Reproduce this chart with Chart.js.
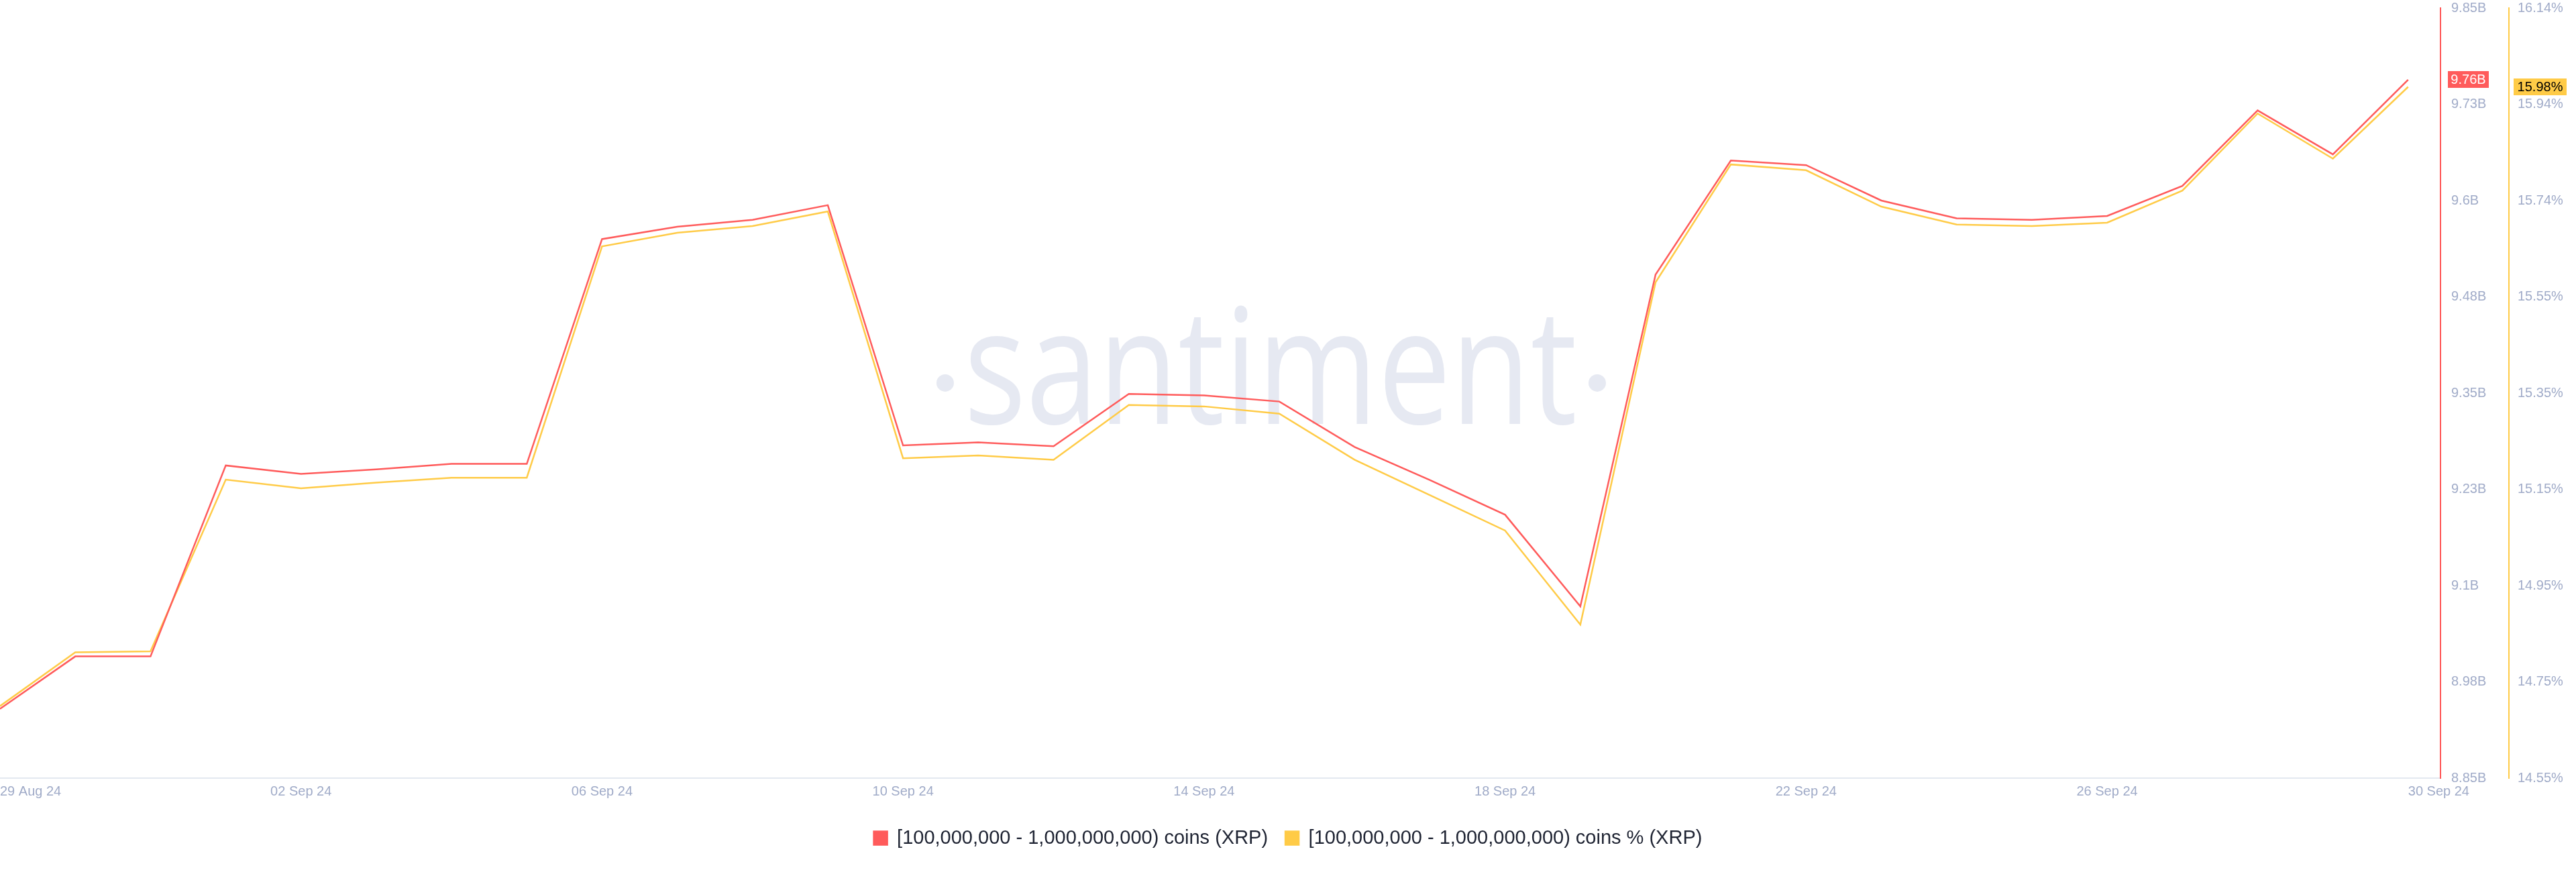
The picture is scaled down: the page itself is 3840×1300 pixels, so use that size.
<!DOCTYPE html>
<html>
<head>
<meta charset="utf-8">
<script src="https://cdn.jsdelivr.net/npm/chart.js@4.4.1/dist/chart.umd.min.js"></script>
<style>
  html, body { margin: 0; padding: 0; background: #ffffff; }
  #wrap { width: 3840px; height: 1300px; position: relative; }
</style>
</head>
<body>
<div id="wrap"><canvas id="c" width="3840" height="1300"></canvas></div>
<script>
// ---- Data ----
const dateLabels = [
  '29 Aug 24','30 Aug 24','31 Aug 24','01 Sep 24','02 Sep 24','03 Sep 24','04 Sep 24','05 Sep 24',
  '06 Sep 24','07 Sep 24','08 Sep 24','09 Sep 24','10 Sep 24','11 Sep 24','12 Sep 24','13 Sep 24',
  '14 Sep 24','15 Sep 24','16 Sep 24','17 Sep 24','18 Sep 24','19 Sep 24','20 Sep 24','21 Sep 24',
  '22 Sep 24','23 Sep 24','24 Sep 24','25 Sep 24','26 Sep 24','27 Sep 24','28 Sep 24','29 Sep 24',
  '30 Sep 24'
];
// [100M - 1B) coins held, in billions of XRP
const holdingsB = [
  8.940, 9.008, 9.008, 9.256, 9.245, 9.251, 9.258, 9.258,
  9.550, 9.566, 9.575, 9.594, 9.282, 9.286, 9.281, 9.349,
  9.347, 9.339, 9.280, 9.237, 9.192, 9.073, 9.504, 9.652,
  9.646, 9.600, 9.577, 9.575, 9.580, 9.619, 9.717, 9.660,
  9.757
];
// [100M - 1B) coins as % of supply
const holdingsPct = [
  14.702, 14.813, 14.815, 15.169, 15.151, 15.163, 15.173, 15.173,
  15.650, 15.678, 15.692, 15.722, 15.213, 15.219, 15.210, 15.323,
  15.320, 15.305, 15.210, 15.137, 15.064, 14.870, 15.576, 15.819,
  15.807, 15.732, 15.695, 15.692, 15.699, 15.765, 15.924, 15.831,
  15.979
];
const seriesNames = [
  '[100,000,000 - 1,000,000,000) coins (XRP)',
  '[100,000,000 - 1,000,000,000) coins % (XRP)'
];
const xTickIndex = [0, 4, 8, 12, 16, 20, 24, 28, 32];
const holdingsTicks = ['8.85B','8.98B','9.1B','9.23B','9.35B','9.48B','9.6B','9.73B','9.85B'];
const pctTicks = ['14.55%','14.75%','14.95%','15.15%','15.35%','15.55%','15.74%','15.94%','16.14%'];
const holdingsRange = [8.85, 9.85];
const pctRange = [14.5535, 16.1415];
const xRange = [0, 32.43];

// ---- Styling ----
const RED = '#ff5b5b';
const YELLOW = '#ffcb47';
const TICK = '#a0abc8';
const FONT = '"Liberation Sans", Arial, sans-serif';

function evenTicks(range, n) {
  return Array.from({ length: n }, (_, i) => ({ value: range[0] + i * (range[1] - range[0]) / (n - 1) }));
}

const watermark = {
  id: 'watermark',
  beforeDatasetsDraw(chart) {
    const { ctx, chartArea: a } = chart;
    const cx = a.left + a.width * 0.5206;
    const base = a.top + a.height * 0.540;
    ctx.save();
    ctx.fillStyle = '#e6e9f2';
    ctx.font = '241px "Open Sans"';
    const w = ctx.measureText('santiment').width;
    ctx.translate(cx, base);
    ctx.scale(914 / w, 1);
    ctx.textAlign = 'center';
    ctx.textBaseline = 'alphabetic';
    ctx.fillText('santiment', 0, 0);
    ctx.restore();
    ctx.save();
    ctx.fillStyle = '#e6e9f2';
    ctx.beginPath();
    ctx.arc(cx - 485, base - 61, 13, 0, Math.PI * 2);
    ctx.fill();
    ctx.beginPath();
    ctx.arc(cx + 487, base - 61, 13, 0, Math.PI * 2);
    ctx.fill();
    ctx.restore();
  }
};

// first and last date labels start at their tick, the others are centred
const edgeLabelAlign = {
  id: 'edgeLabelAlign',
  beforeDraw(chart) {
    const items = chart.scales.x.getLabelItems();
    if (items.length) {
      items[0].options.textAlign = 'left';
      items[items.length - 1].options.textAlign = 'left';
    }
  }
};

function badge(ctx, x, yc, w, h, bg, fg, text) {
  ctx.fillStyle = bg;
  ctx.fillRect(x, Math.round(yc - h / 2), w, h);
  ctx.fillStyle = fg;
  ctx.font = '20px ' + FONT;
  ctx.textAlign = 'center';
  ctx.textBaseline = 'middle';
  ctx.fillText(text, x + w / 2, yc + 1);
}

const lastValueBadges = {
  id: 'lastValueBadges',
  afterDraw(chart) {
    const { ctx } = chart;
    const sy = chart.scales.y, sp = chart.scales.y1;
    const lr = holdingsB[holdingsB.length - 1];
    const lp = holdingsPct[holdingsPct.length - 1];
    ctx.save();
    badge(ctx, sy.left + 11, sy.getPixelForValue(lr), 61, 25, RED, '#ffffff', lr.toFixed(2) + 'B');
    badge(ctx, sp.left + 7, sp.getPixelForValue(lp), 79, 25, YELLOW, '#000000', lp.toFixed(2) + '%');
    ctx.restore();
  }
};

new Chart(document.getElementById('c'), {
  type: 'line',
  data: {
    datasets: [
      {
        label: seriesNames[0],
        data: holdingsB.map((v, i) => ({ x: i, y: v })),
        yAxisID: 'y',
        borderColor: RED,
        backgroundColor: RED,
        borderWidth: 2.5,
        pointRadius: 0,
        tension: 0
      },
      {
        label: seriesNames[1],
        data: holdingsPct.map((v, i) => ({ x: i, y: v })),
        yAxisID: 'y1',
        borderColor: YELLOW,
        backgroundColor: YELLOW,
        borderWidth: 2.5,
        pointRadius: 0,
        tension: 0
      }
    ]
  },
  options: {
    responsive: false,
    devicePixelRatio: 1,
    animation: false,
    layout: { padding: { top: 12, left: 0, right: 0, bottom: 26 } },
    plugins: {
      tooltip: { enabled: false },
      legend: {
        position: 'bottom',
        labels: {
          boxWidth: 20,
          boxHeight: 20,
          padding: 26,
          color: '#1f2433',
          font: { size: 29, family: FONT }
        }
      }
    },
    scales: {
      x: {
        type: 'linear',
        min: xRange[0],
        max: xRange[1],
        afterBuildTicks: s => { s.ticks = xTickIndex.map(v => ({ value: v })); },
        afterFit: s => { s.height = 49; s.paddingLeft = 0; s.paddingRight = 0; },
        ticks: {
          align: 'center',
          padding: 8,
          autoSkip: false,
          maxRotation: 0,
          color: TICK,
          font: { size: 20, family: FONT },
          callback: v => dateLabels[v]
        },
        grid: { display: false, drawTicks: false },
        border: { display: true, color: '#e3e8f0', width: 2 }
      },
      y: {
        type: 'linear',
        position: 'right',
        min: holdingsRange[0],
        max: holdingsRange[1],
        afterBuildTicks: s => { s.ticks = evenTicks(holdingsRange, holdingsTicks.length); },
        afterFit: s => { s.width = 102; s.paddingTop = 0; s.paddingBottom = 0; },
        ticks: {
          padding: 16,
          autoSkip: false,
          color: TICK,
          font: { size: 20, family: FONT },
          callback: (v, i) => holdingsTicks[i]
        },
        grid: { display: false, drawTicks: false },
        border: { display: true, color: RED, width: 2 }
      },
      y1: {
        type: 'linear',
        position: 'right',
        min: pctRange[0],
        max: pctRange[1],
        afterBuildTicks: s => { s.ticks = evenTicks(pctRange, pctTicks.length); },
        afterFit: s => { s.width = 100; s.paddingTop = 0; s.paddingBottom = 0; },
        ticks: {
          padding: 13,
          autoSkip: false,
          color: TICK,
          font: { size: 20, family: FONT },
          callback: (v, i) => pctTicks[i]
        },
        grid: { display: false, drawTicks: false },
        border: { display: true, color: YELLOW, width: 2 }
      }
    }
  },
  plugins: [watermark, edgeLabelAlign, lastValueBadges]
});
</script>
</body>
</html>
